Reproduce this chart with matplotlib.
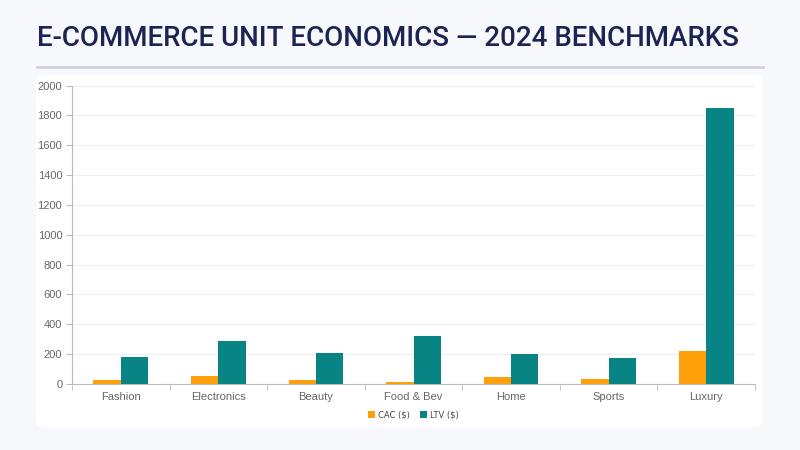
import numpy as np
import matplotlib.pyplot as plt
from matplotlib.patches import FancyBboxPatch
from matplotlib.lines import Line2D

categories = ['Fashion', 'Electronics', 'Beauty', 'Food & Bev', 'Home', 'Sports', 'Luxury']
cac = [30, 55, 25, 15, 45, 35, 220]
ltv = [180, 285, 210, 320, 200, 175, 1850]
series_names = ['CAC ($)', 'LTV ($)']

orange = '#FF9F0A'
teal = '#088484'
navy = '#1B2452'

fig = plt.figure(figsize=(8, 4.5), dpi=100)
fig.patch.set_facecolor('#F7F8FB')

# white card behind the chart
card = FancyBboxPatch((36 / 800, 1 - 427 / 450), (763 - 36) / 800, (427 - 75) / 450,
                      boxstyle='round,pad=0,rounding_size=0.012',
                      transform=fig.transFigure, facecolor='white', edgecolor='none', zorder=-5)
fig.patches.append(card)

# title and rule under it
fig.text(37 / 800, 1 - 38 / 450, 'E-COMMERCE UNIT ECONOMICS \u2014 2024 BENCHMARKS',
         fontsize=20, fontweight='medium', family=['Roboto', 'DejaVu Sans'],
         color=navy, va='center', ha='left')
fig.add_artist(Line2D([37 / 800, 763 / 800], [1 - 66.5 / 450, 1 - 66.5 / 450],
                      transform=fig.transFigure, color='#CFD1E0', linewidth=2))

ax = fig.add_axes([72 / 800, 1 - 384 / 450, (755 - 72) / 800, (384 - 85.5) / 450])
ax.set_facecolor('none')
ax.set_zorder(2)

x = np.arange(len(categories))
w = 0.28
ax.bar(x - w / 2, cac, width=w, color=orange, label=series_names[0], zorder=3)
ax.bar(x + w / 2, ltv, width=w, color=teal, label=series_names[1], zorder=3)

ax.set_xlim(-0.5, len(categories) - 0.5)
ax.set_ylim(0, 2000)
ax.set_yticks(range(0, 2001, 200))
ax.tick_params(axis='y', labelsize=8, colors='#666666', length=4, color='#BBBBBB', pad=3)
ax.set_xticks(x)
ax.set_xticklabels(categories)
ax.tick_params(axis='x', labelsize=8, colors='#666666', length=0, pad=6)
ax.set_xticks(np.arange(-0.5, len(categories), 1), minor=True)
ax.tick_params(axis='x', which='minor', length=4, color='#BBBBBB')
for lab in ax.get_xticklabels() + ax.get_yticklabels():
    lab.set_family(['Liberation Sans', 'DejaVu Sans'])

ax.yaxis.grid(True, color='#EEEEF2', linewidth=0.8, zorder=0)
ax.set_axisbelow(True)
for s in ['top', 'right']:
    ax.spines[s].set_visible(False)
ax.spines['left'].set_color('#BBBBBB')
ax.spines['bottom'].set_color('#BBBBBB')

leg = ax.legend(loc='center', bbox_to_anchor=(0.5, (384 - 415) / (384 - 85.5)), ncol=2,
                frameon=False, fontsize=6, handlelength=0.8, handleheight=0.8,
                handletextpad=0.4, columnspacing=1.2)
for t in leg.get_texts():
    t.set_color('#444444')

fig.savefig('out.png', dpi=100, facecolor=fig.get_facecolor())
